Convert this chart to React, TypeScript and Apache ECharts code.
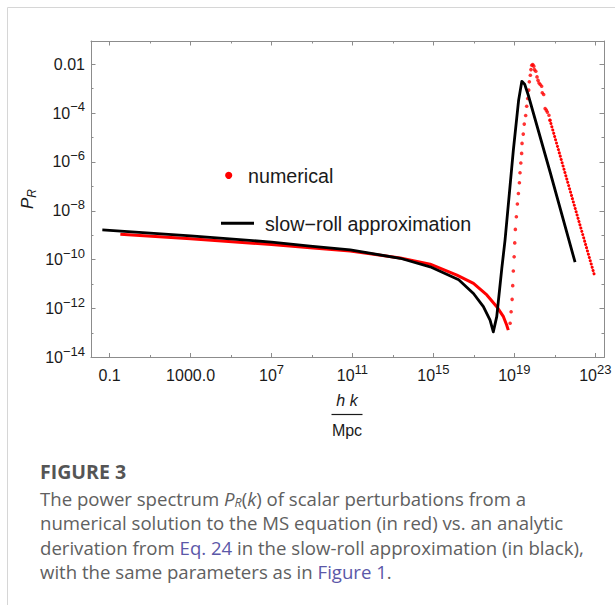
import React, { useEffect, useRef } from "react";
import * as echarts from "echarts";

// Axis layout (exponents of 10)
const xMajorExps = [-1, 3, 7, 11, 15, 19, 23];
const xMinorExps = [1, 5, 9, 13, 17, 21];
const yMajorExps = [-14, -12, -10, -8, -6, -4, -2];
const yMinorExps = [-13, -11, -9, -7, -5, -3];
const xRange = [-1.92, 23.43];
const yRange = [-14, -1.05];

// slow-roll approximation (black): log10 k, log10 P_R
const slowRollLogK = [-1.36, 3, 7, 8.91, 10.89, 13.36, 14.84, 16.25, 16.98, 17.47, 17.8, 17.96, 18.13, 18.38, 18.54, 18.95, 19.21, 19.37, 19.51, 19.69, 20.77, 22.0];
const slowRollLogP = [-8.78, -9.02, -9.28, -9.44, -9.6, -9.94, -10.29, -10.82, -11.38, -11.92, -12.47, -12.95, -12.33, -10.35, -9.2, -5.52, -3.48, -2.7, -2.82, -3.27, -6.42, -10.1];

// numerical solution (red), dense part that reads as a solid line
const numericalLogK = [-0.47, 3, 7, 8.91, 10.89, 13.36, 14.84, 16.16, 16.98, 17.64, 18.13, 18.46, 18.62, 18.7];
const numericalLogP = [-8.96, -9.14, -9.38, -9.51, -9.64, -9.93, -10.18, -10.63, -10.97, -11.44, -11.92, -12.33, -12.67, -12.88];

// numerical solution (red), individual sample points around the peak
const numericalDotLogK = [18.79, 18.84, 18.89, 18.92, 18.95, 18.99, 19.02, 19.05, 19.1, 19.15, 19.2, 19.25, 19.28, 19.32, 19.36, 19.38, 19.44, 19.49, 19.56, 19.61, 19.66, 19.71, 19.74, 19.79, 19.82, 19.86, 19.91, 19.96, 19.99, 20.06, 20.12, 20.17, 20.22, 20.28, 20.35, 20.38, 20.45, 20.52, 20.58, 20.63, 20.71, 20.76];
const numericalDotLogP = [-12.6, -12.13, -11.62, -11.06, -10.46, -9.88, -9.31, -8.76, -8.24, -7.72, -7.29, -6.85, -6.44, -6.04, -5.65, -5.24, -4.86, -4.45, -4.1, -3.72, -3.4, -3.06, -2.72, -2.45, -2.22, -2.04, -2.01, -2.08, -2.22, -2.29, -2.52, -2.66, -2.77, -2.83, -2.9, -3.17, -3.24, -3.81, -3.88, -3.96, -4.09, -4.29];

// numerical solution (red), densely sampled decaying tail
const numericalTailLogK = [20.76, 21.85, 22.97];
const numericalTailLogP = [-4.29, -7.45, -10.67];

const zip = (xs: number[], ys: number[]) => xs.map((x, i) => [x, ys[i]]);

const axisColor = "#8c8c8c";
const tickFont = "'Liberation Sans', Arial, sans-serif";
const capFont = "'Open Sans', 'Noto Sans', sans-serif";
const capColor = "#606060";
const linkColor = "#5b58a8";

const labelRich: any = {
  b: { fontSize: 16, lineHeight: 26, fontFamily: tickFont, color: "#1a1a1a" },
  s: { fontSize: 13, lineHeight: 12, verticalAlign: "top", fontFamily: tickFont, color: "#1a1a1a" },
};

const fmtX = (v: number) => {
  const e = Math.round(v);
  if (e === -1) return "{b|0.1}";
  if (e === 3) return "{b|1000.0}";
  return `{b|10}{s|${e}}`;
};
const fmtY = (v: number) => {
  const e = Math.round(v);
  if (e === -2) return "{b|0.01}";
  return `{b|10}{s|\u2212${-e}}`;
};

const tickStyle = { color: axisColor, width: 1 };

function xAxisDef(position: "top" | "bottom", major: boolean, labels: boolean) {
  return {
    type: "value",
    position,
    offset: 0,
    min: xRange[0],
    max: xRange[1],
    splitLine: { show: false },
    axisLine: { show: major, onZero: false, lineStyle: { color: axisColor, width: 1 } },
    axisTick: {
      show: true,
      inside: true,
      length: major ? 4.5 : 2.5,
      customValues: major ? xMajorExps : xMinorExps,
      lineStyle: tickStyle,
    },
    axisLabel: labels
      ? { show: true, customValues: xMajorExps, margin: 5, formatter: fmtX, rich: labelRich }
      : { show: false },
  };
}

function yAxisDef(position: "left" | "right", major: boolean, labels: boolean) {
  return {
    type: "value",
    position,
    offset: 0,
    min: yRange[0],
    max: yRange[1],
    splitLine: { show: false },
    axisLine: { show: major, onZero: false, lineStyle: { color: axisColor, width: 1 } },
    axisTick: {
      show: true,
      inside: true,
      length: major ? 4.5 : 2.5,
      customValues: major ? yMajorExps : yMinorExps,
      lineStyle: tickStyle,
    },
    axisLabel: labels
      ? { show: true, customValues: yMajorExps, margin: 6, formatter: fmtY, rich: labelRich }
      : { show: false },
  };
}

const capBase = { fontSize: 18.6, lineHeight: 21, fontFamily: capFont, fill: capColor };
const capRich: any = {
  n: { ...capBase },
  l: { ...capBase, fill: linkColor },
  i: { ...capBase, fontStyle: "italic" },
  sub: { fontSize: 12.5, lineHeight: 12, verticalAlign: "bottom", fontFamily: capFont, fill: capColor, fontStyle: "italic" },
};

function captionLine(text: string, y: number) {
  return {
    type: "text",
    x: 40,
    y,
    style: { text, rich: capRich, fill: capColor, align: "left", verticalAlign: "middle" },
    silent: true,
  };
}

const option: any = {
  animation: false,
  backgroundColor: "#ffffff",
  grid: { left: 91, right: 11, top: 41, bottom: 247.5, containLabel: false },
  xAxis: [
    xAxisDef("bottom", true, true),
    xAxisDef("bottom", false, false),
    xAxisDef("top", true, false),
    xAxisDef("top", false, false),
  ],
  yAxis: [
    yAxisDef("left", true, true),
    yAxisDef("left", false, false),
    yAxisDef("right", true, false),
    yAxisDef("right", false, false),
  ],
  series: [
    {
      name: "numerical",
      type: "line",
      data: zip(numericalLogK, numericalLogP),
      showSymbol: false,
      symbol: "none",
      lineStyle: { color: "#ff0000", width: 3, join: "round" },
      z: 2,
    },
    {
      name: "numerical",
      type: "scatter",
      data: zip(numericalDotLogK, numericalDotLogP),
      symbol: "circle",
      symbolSize: 3.6,
      itemStyle: { color: "#ff0000" },
      z: 2,
    },
    {
      name: "numerical",
      type: "line",
      data: zip(numericalTailLogK, numericalTailLogP),
      showSymbol: false,
      symbol: "none",
      lineStyle: { color: "#ff0000", width: 3, type: [0.1, 3.3], cap: "round" },
      z: 2,
    },
    {
      name: "slow\u2212roll approximation",
      type: "line",
      data: zip(slowRollLogK, slowRollLogP),
      showSymbol: false,
      symbol: "none",
      lineStyle: { color: "#000000", width: 2.8, join: "round" },
      z: 3,
    },
  ],
  graphic: [
    {
      type: "rect",
      shape: { x: 7.5, y: 7.5, width: 900, height: 900 },
      style: { fill: "none", stroke: "#d6d6d6", lineWidth: 1 },
      silent: true,
      z: -1,
    },
    // y axis name P_R
    {
      type: "text",
      x: 27,
      y: 199,
      rotation: Math.PI / 2,
      style: {
        text: "{p|P}{r|R}",
        align: "center",
        verticalAlign: "middle",
        rich: {
          p: { fontSize: 17, lineHeight: 22, fontStyle: "italic", fontFamily: tickFont, fill: "#1a1a1a" },
          r: { fontSize: 12, lineHeight: 12, verticalAlign: "bottom", fontStyle: "italic", fontFamily: tickFont, fill: "#1a1a1a" },
        },
      },
      silent: true,
    },
    // x axis name: h k / Mpc
    {
      type: "text",
      x: 347,
      y: 400,
      style: { text: "h k", font: `italic 16px ${tickFont}`, fill: "#1a1a1a", align: "center", verticalAlign: "middle" },
      silent: true,
    },
    {
      type: "line",
      shape: { x1: 331.5, y1: 414.5, x2: 362.5, y2: 414.5 },
      style: { stroke: "#1a1a1a", lineWidth: 1.2 },
      silent: true,
    },
    {
      type: "text",
      x: 347,
      y: 430,
      style: { text: "Mpc", font: `16px ${tickFont}`, fill: "#1a1a1a", align: "center", verticalAlign: "middle" },
      silent: true,
    },
    // legend
    {
      type: "circle",
      shape: { cx: 228.7, cy: 175.3, r: 3.6 },
      style: { fill: "#ff0000" },
      silent: true,
    },
    {
      type: "text",
      x: 248,
      y: 175.5,
      style: { text: "numerical", font: `19.7px ${tickFont}`, fill: "#1a1a1a", align: "left", verticalAlign: "middle" },
      silent: true,
    },
    {
      type: "line",
      shape: { x1: 221, y1: 223.3, x2: 254, y2: 223.3 },
      style: { stroke: "#000000", lineWidth: 3 },
      silent: true,
    },
    {
      type: "text",
      x: 265,
      y: 223.5,
      style: { text: "slow\u2212roll approximation", font: `19.7px ${tickFont}`, fill: "#1a1a1a", align: "left", verticalAlign: "middle" },
      silent: true,
    },
    // caption
    {
      type: "text",
      x: 40,
      y: 471,
      style: { text: "FIGURE 3", font: `bold 19.5px ${capFont}`, fill: "#555555", align: "left", verticalAlign: "middle" },
      silent: true,
    },
    captionLine("{n|The power spectrum }{i|P}{sub|R}{n|(}{i|k}{n|) of scalar perturbations from a}", 498),
    captionLine("{n|numerical solution to the MS equation (in red) vs. an analytic}", 522.5),
    captionLine("{n|derivation from }{l|Eq. 24}{n| in the slow-roll approximation (in black),}", 547),
    captionLine("{n|with the same parameters as in }{l|Figure 1}{n|.}", 571.5),
  ],
};

export default function App() {
  const ref = useRef<HTMLDivElement>(null);
  useEffect(() => {
    if (!ref.current) return;
    const chart = echarts.init(ref.current, null, { renderer: "svg" });
    chart.setOption(option);
    return () => chart.dispose();
  }, []);
  return (
    <div style={{ position: "fixed", left: 0, top: 0, width: 615, height: 605, background: "#ffffff" }}>
      <div ref={ref} style={{ width: 615, height: 605 }} />
    </div>
  );
}
